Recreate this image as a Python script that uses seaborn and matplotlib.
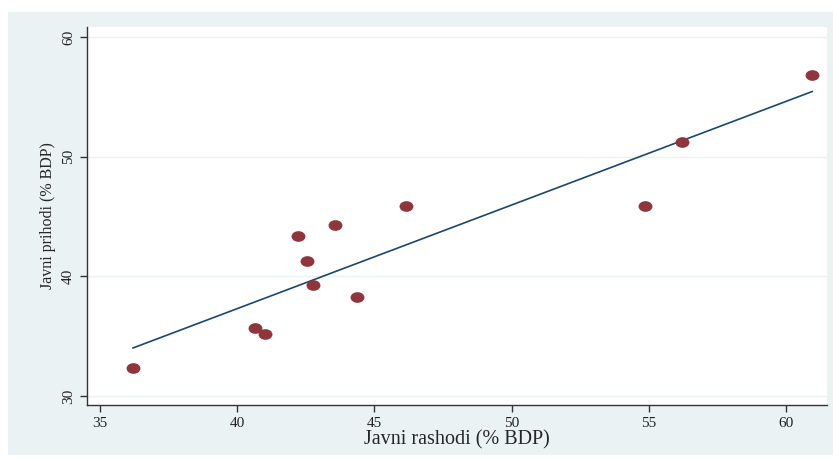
import numpy as np
import pandas as pd
import matplotlib.pyplot as plt
import matplotlib.patches as mpatches
from matplotlib.path import Path
from matplotlib.transforms import Affine2D
import seaborn as sns

# podaci
javni_rashodi = [36.2, 40.65, 41.0, 42.2, 42.55, 42.75, 43.55, 44.35, 46.15, 54.85, 56.2, 60.95]
javni_prihodi = [32.35, 35.7, 35.15, 43.35, 41.3, 39.25, 44.25, 38.25, 45.9, 45.85, 51.25, 56.85]
x_ticks = [35, 40, 45, 50, 55, 60]
y_ticks = [30, 40, 50, 60]

df = pd.DataFrame({"rashodi": javni_rashodi, "prihodi": javni_prihodi})

sns.set_style("white")
plt.rcParams["font.family"] = ["Liberation Serif", "DejaVu Serif"]

bg = "#EAF2F3"
fig = plt.figure(figsize=(8.33, 4.59), dpi=100)
fig.patches.append(mpatches.Rectangle((8 / 833, 1 - 455 / 459), 825 / 833, 443 / 459,
                                      transform=fig.transFigure, facecolor=bg,
                                      edgecolor="none", zorder=-5))
ax = fig.add_axes([86.7 / 833, 1 - 405 / 459, 740 / 833, 378 / 459])
ax.set_facecolor("white")

# eliptični marker
ellipse = Path.unit_circle().transformed(Affine2D().scale(1.3, 1.0))

sns.regplot(x="rashodi", y="prihodi", data=df, ci=None, ax=ax,
            marker=ellipse,
            scatter_kws={"s": 100, "color": "#90353B", "linewidths": 0, "alpha": 1, "zorder": 3},
            line_kws={"color": "#1A476F", "linewidth": 1.2, "zorder": 2})

ax.set_xlim(34.52, 61.47)
ax.set_ylim(29.25, 60.83)
ax.set_xticks(x_ticks)
ax.set_yticks(y_ticks)
ax.set_yticklabels([str(t) for t in y_ticks], rotation=90, va="center")
ax.yaxis.grid(True, color=bg, linewidth=1)
ax.xaxis.grid(False)
ax.set_axisbelow(True)

for side in ["top", "right"]:
    ax.spines[side].set_visible(False)
for side in ["left", "bottom"]:
    ax.spines[side].set_color("#333333")
    ax.spines[side].set_linewidth(1)
ax.tick_params(axis="both", which="major", direction="out", length=5, width=1,
               color="#333333", labelsize=11, labelcolor="#222222", left=True, bottom=True)

ax.set_xlabel("Javni rashodi (% BDP)", fontsize=14.5, labelpad=0)
ax.set_ylabel("Javni prihodi (% BDP)", fontsize=11.5, labelpad=4)

fig.savefig("out.png", dpi=100)
